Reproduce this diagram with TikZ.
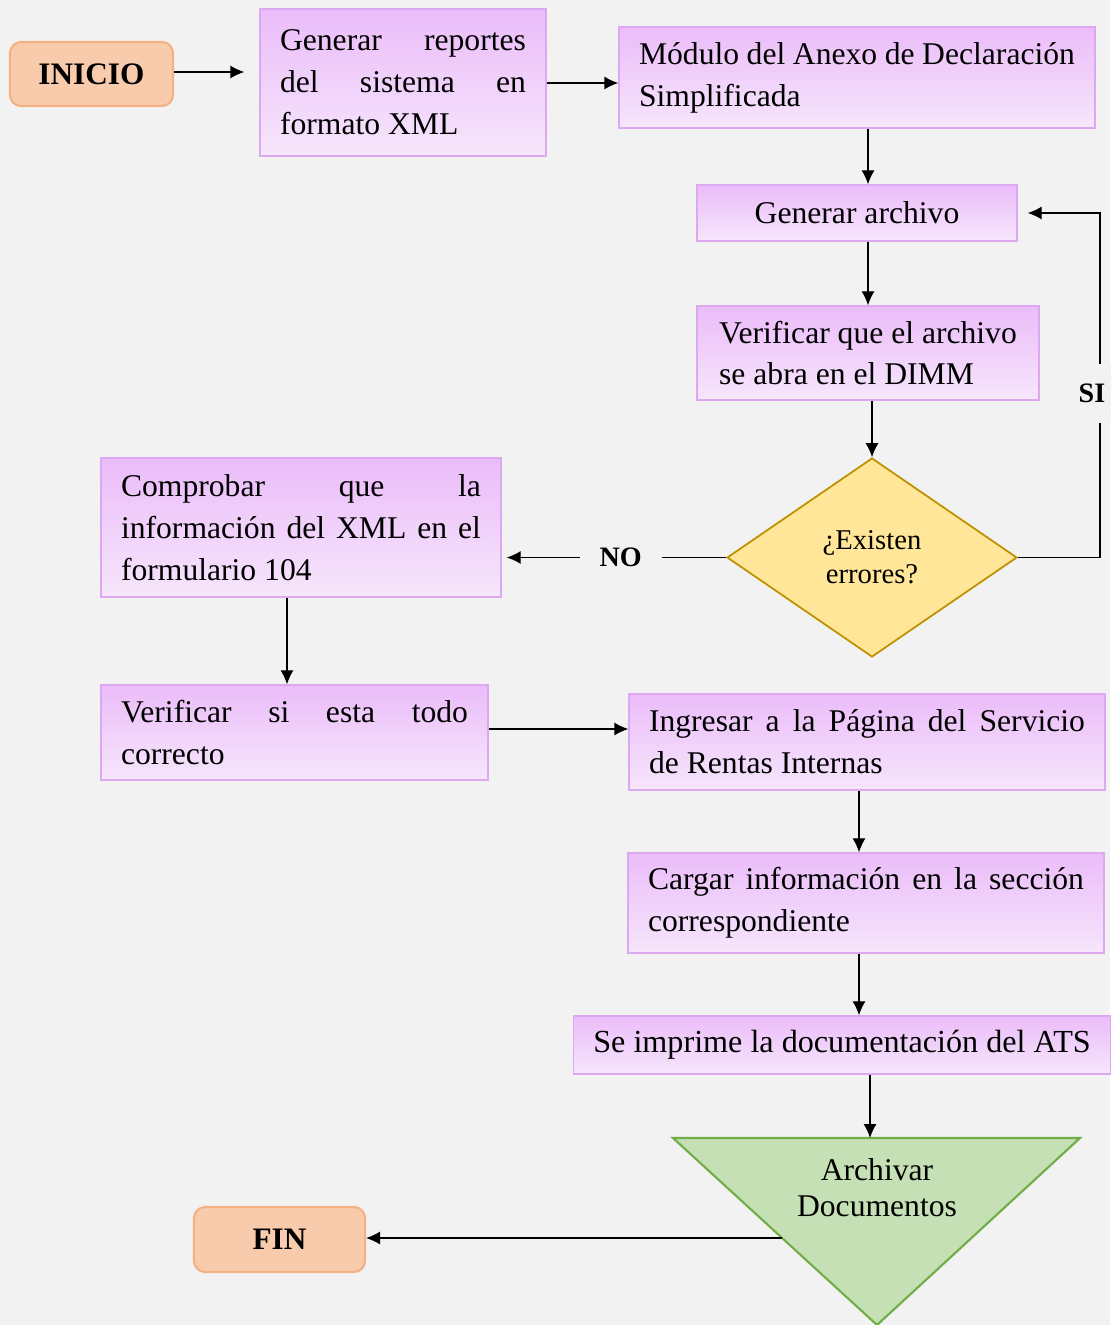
\documentclass[tikz,border=0pt]{standalone}
\usepackage{fontspec}
\setmainfont{Liberation Serif}
\usetikzlibrary{shapes.geometric,arrows.meta}
\definecolor{fondo}{HTML}{F2F2F2}
\definecolor{lilaArriba}{HTML}{EBBCFA}
\definecolor{lilaAbajo}{HTML}{F6E6FB}
\definecolor{lilaBorde}{HTML}{DCA8EF}
\definecolor{naranja}{HTML}{F8CBAD}
\definecolor{naranjaBorde}{HTML}{F4B183}
\definecolor{amarillo}{HTML}{FFE699}
\definecolor{amarilloBorde}{HTML}{BF9000}
\definecolor{verde}{HTML}{C5E0B4}
\definecolor{verdeBorde}{HTML}{70AD47}
\hbadness=10000
\begin{document}
\begin{tikzpicture}[x=0.02cm, y=-0.02cm,
        caja/.style={rectangle, draw=lilaBorde, line width=0.8pt, top color=lilaArriba, bottom color=lilaAbajo, inner xsep=0.4cm, font=\fontsize{18}{23.8}\selectfont},
        terminal/.style={rectangle, draw=naranjaBorde, fill=naranja, line width=1.2pt, rounded corners=0.22cm, font=\fontsize{17.8}{21}\selectfont\bfseries},
        decision/.style={diamond, draw=amarilloBorde, fill=amarillo, line width=1pt, aspect=1.46, inner sep=0pt, align=center, font=\fontsize{16.3}{19.5}\selectfont},
        flecha/.style={line width=0.75pt, -{Latex[length=0.28cm, width=0.26cm]}},
        rotulo/.style={fill=fondo, inner sep=0.4cm, font=\fontsize{16}{19}\selectfont\bfseries}
    ]
        % Fondo
        \fill[fondo] (0,0) rectangle (1110,1325);
        \useasboundingbox (0,0) rectangle (1110,1325);

        % Inicio
        \node[terminal, minimum width=3.26cm, minimum height=1.28cm] (inicio) at (91.5,74) {INICIO};

        % Primera fila
        \node[caja, text width=4.92cm, minimum height=2.94cm, align=justify] (reportes) at (403,82.5) {Generar reportes\linebreak del sistema en\linebreak formato XML};
        \node[caja, text width=8.72cm, minimum height=2.02cm, align=justify] (modulo) at (857,77.5) {Módulo del Anexo de Declaración\linebreak Simplificada};

        % Columna derecha
        \node[caja, minimum width=6.4cm, minimum height=1.12cm] (archivo) at (857,213) {Generar archivo};
        \node[caja, minimum width=6.84cm, minimum height=1.88cm, align=left] (dimm) at (868,353) {Verificar que el archivo\\se abra en el DIMM};
        \node[decision, minimum width=5.8cm, minimum height=3.98cm] (errores) at (872,557.5) {¿Existen\\errores?};

        % Columna izquierda
        \node[caja, text width=7.2cm, minimum height=2.78cm, align=justify] (comprobar) at (301,527.5) {Comprobar que la\linebreak información del XML en el\linebreak formulario 104};
        \node[caja, text width=6.94cm, minimum height=1.9cm, align=justify] (correcto) at (294.5,732.5) {Verificar si esta todo\linebreak correcto};

        % Parte baja
        \node[caja, text width=8.72cm, minimum height=1.92cm, align=justify] (sri) at (867,742) {Ingresar a la Página del Servicio\linebreak de Rentas Internas};
        \node[caja, text width=8.72cm, minimum height=2cm, align=justify] (cargar) at (866,903) {Cargar información en la sección\linebreak correspondiente};
        \node[caja, minimum width=10.6cm, minimum height=1.16cm, font=\fontsize{18.3}{23.8}\selectfont] (imprime) at (842,1045) {Se imprime la documentación del ATS};

        % Archivo (triangulo)
        \draw[draw=verdeBorde, fill=verde, line width=1.2pt, line join=miter] (673,1138) -- (1080,1138) -- (877,1325) -- cycle;
        \node[align=center, font=\fontsize{18}{20.5}\selectfont] (archivar) at (877,1188) {Archivar\\Documentos};
        \coordinate (arcArriba) at (870,1138);
        \coordinate (arcIzq) at (782,1238);

        % Fin
        \node[terminal, minimum width=3.42cm, minimum height=1.3cm] (fin) at (279.5,1239.5) {FIN};

        % Flechas
        \draw[flecha, shorten >=0.3cm] (inicio.east |- 0,72) -- (reportes.west |- 0,72);
        \draw[flecha] (reportes.east |- 0,83) -- (modulo.west |- 0,83);
        \draw[flecha] (modulo.south -| dimm) -- (archivo.north -| dimm);
        \draw[flecha] (archivo.south -| dimm) -- (dimm.north);
        \draw[flecha] (dimm.south -| errores) -- (errores.north);
        \coordinate (lazo) at (1100,557.5);
        \draw[flecha, shorten >=0.2cm] (errores.east) -- (lazo) -- node[rotulo, pos=0.477, xshift=-0.16cm] {SI} (lazo |- archivo.east) -- (archivo.east);
        \draw[flecha, shorten >=0.1cm] (errores.west) -- node[rotulo, pos=0.47] {NO} (errores.west -| comprobar.east);
        \draw[flecha] ([xshift=-0.28cm]comprobar.south) -- ([xshift=-0.28cm]comprobar.south |- correcto.north);
        \draw[flecha] (correcto.east |- 0,729) -- (sri.west |- 0,729);
        \draw[flecha] ([xshift=-0.16cm]sri.south) -- ([xshift=-0.16cm]sri.south |- cargar.north);
        \draw[flecha] (cargar.south -| 859,0) -- (imprime.north -| 859,0);
        \draw[flecha] (imprime.south -| arcArriba) -- (arcArriba);
        \draw[flecha] (arcIzq) -- (arcIzq -| fin.east);
    \end{tikzpicture}
\end{document}
